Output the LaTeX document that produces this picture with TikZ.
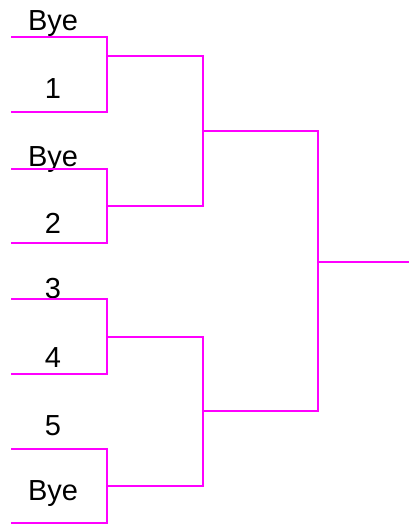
\documentclass[tikz,border=0pt]{standalone}
\usepackage{fontspec}
\setmainfont{Liberation Sans}
\definecolor{rosa}{RGB}{255,0,255}
\begin{document}
\begin{tikzpicture}[
        x=1pt, y=-1pt,
        jugador/.style={
            anchor=base,
            inner sep=0pt,
            font=\fontsize{29}{32}\selectfont
        },
        llave/.style={
            draw=rosa,
            line width=2.6pt
        }
    ]
    \useasboundingbox (0,0) rectangle (409,525);

    % Participantes
    \node[jugador] (j1) at (53,30)  {Bye};
    \node[jugador] (j2) at (53,98)  {1};
    \node[jugador] (j3) at (53,166) {Bye};
    \node[jugador] (j4) at (53,233) {2};
    \node[jugador] (j5) at (53,298) {3};
    \node[jugador] (j6) at (53,367) {4};
    \node[jugador] (j7) at (53,435) {5};
    \node[jugador] (j8) at (53,500) {Bye};

    % Puntos de la llave
    \coordinate (a1) at (11,37);   \coordinate (b1) at (107,37);
    \coordinate (a2) at (11,112);  \coordinate (b2) at (107,112);
    \coordinate (a3) at (11,169);  \coordinate (b3) at (107,169);
    \coordinate (a4) at (11,243);  \coordinate (b4) at (107,243);
    \coordinate (a5) at (11,299);  \coordinate (b5) at (107,299);
    \coordinate (a6) at (11,374);  \coordinate (b6) at (107,374);
    \coordinate (a7) at (11,449);  \coordinate (b7) at (107,449);
    \coordinate (a8) at (11,523);  \coordinate (b8) at (107,523);

    \coordinate (m1) at (107,56);  \coordinate (n1) at (203,56);
    \coordinate (m2) at (107,206); \coordinate (n2) at (203,206);
    \coordinate (m3) at (107,337); \coordinate (n3) at (203,337);
    \coordinate (m4) at (107,486); \coordinate (n4) at (203,486);

    \coordinate (p1) at (203,131); \coordinate (q1) at (318,131);
    \coordinate (p2) at (203,411); \coordinate (q2) at (318,411);

    \coordinate (f)  at (318,262); \coordinate (g)  at (409,262);

    % Primera ronda
    \draw[llave] (a1) -- (b1) -- (b2) -- (a2);
    \draw[llave] (a3) -- (b3) -- (b4) -- (a4);
    \draw[llave] (a5) -- (b5) -- (b6) -- (a6);
    \draw[llave] (a7) -- (b7) -- (b8) -- (a8);

    % Segunda ronda
    \draw[llave] (m1) -- (n1) -- (n2) -- (m2);
    \draw[llave] (m3) -- (n3) -- (n4) -- (m4);

    % Final
    \draw[llave] (p1) -- (q1) -- (q2) -- (p2);
    \draw[llave] (f) -- (g);

    \end{tikzpicture}
\end{document}
